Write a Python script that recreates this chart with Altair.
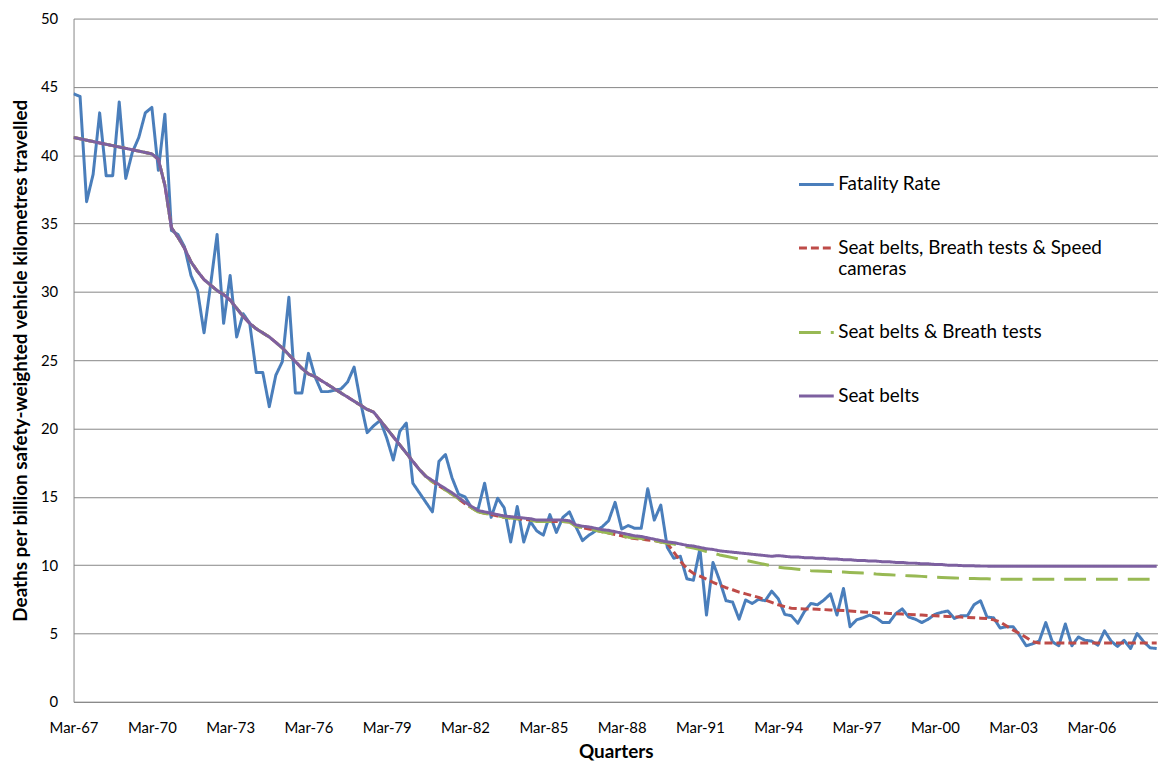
import altair as alt
import pandas as pd

# ---------------- data ----------------
fatality_rate = [
    44.5, 44.3, 36.6, 38.6, 43.1, 38.5, 38.5, 43.9, 38.3, 40.2,
    41.3, 43.1, 43.5, 38.9, 43.0, 34.5, 34.2, 33.3, 31.2, 30.1,
    27.0, 30.5, 34.2, 27.7, 31.2, 26.7, 28.4, 27.7, 24.1, 24.1,
    21.6, 23.9, 24.9, 29.6, 22.6, 22.6, 25.5, 23.8, 22.7, 22.7,
    22.8, 22.9, 23.4, 24.5, 21.9, 19.7, 20.2, 20.6, 19.3, 17.7,
    19.8, 20.4, 16.0, 15.3, 14.6, 13.9, 17.6, 18.1, 16.4, 15.2,
    15.0, 14.2, 14.1, 16.0, 13.5, 14.9, 14.2, 11.7, 14.3, 11.7,
    13.2, 12.5, 12.2, 13.7, 12.4, 13.5, 13.9, 12.8, 11.8, 12.2,
    12.5, 12.8, 13.25, 14.6, 12.65, 12.9, 12.7, 12.7, 15.6, 13.3,
    14.4, 11.3, 10.5, 10.65, 9.0, 8.9, 11.2, 6.35, 10.2, 8.9,
    7.4, 7.3, 6.05, 7.45, 7.2, 7.5, 7.4, 8.1, 7.55, 6.4,
    6.3, 5.75, 6.6, 7.2, 7.1, 7.45, 7.9, 6.35, 8.3, 5.5,
    6.0, 6.15, 6.35, 6.15, 5.8, 5.8, 6.45, 6.8, 6.2, 6.05,
    5.8, 6.05, 6.4, 6.55, 6.65, 6.1, 6.3, 6.3, 7.1, 7.4,
    6.2, 6.15, 5.4, 5.5, 5.5, 4.85, 4.1, 4.25, 4.45, 5.8,
    4.4, 4.1, 5.7, 4.1, 4.75, 4.5, 4.45, 4.15, 5.2, 4.45,
    4.05, 4.5, 3.9, 5.0, 4.4, 3.95, 3.9,
]

seat_belts_breath_speed = [
    41.3, 41.2, 41.1, 41.0, 40.9, 40.8, 40.7, 40.6, 40.5, 40.4,
    40.3, 40.2, 40.1, 39.7, 37.8, 34.7, 34.0, 33.2, 32.2, 31.5,
    30.9, 30.5, 30.1, 29.8, 29.4, 28.8, 28.2, 27.7, 27.3, 27.0,
    26.7, 26.3, 25.9, 25.4, 24.9, 24.4, 24.0, 23.8, 23.5, 23.2,
    22.9, 22.6, 22.3, 22.0, 21.7, 21.4, 21.2, 20.6, 20.0, 19.4,
    18.8, 18.2, 17.6, 17.0, 16.5, 16.1, 15.8, 15.5, 15.2, 14.85,
    14.5, 14.2, 13.9, 13.8, 13.7, 13.6, 13.5, 13.45, 13.4, 13.35,
    13.3, 13.2, 13.2, 13.2, 13.2, 13.2, 13.15, 12.85, 12.75, 12.65,
    12.55, 12.45, 12.35, 12.25, 12.15, 12.0, 11.95, 11.9, 11.85, 11.8,
    11.7, 11.6, 10.95, 10.3, 9.75, 9.4, 9.2, 8.98, 8.75, 8.55,
    8.35, 8.2, 8.03, 7.9, 7.77, 7.64, 7.45, 7.27, 7.1, 6.97,
    6.85, 6.82, 6.8, 6.79, 6.77, 6.75, 6.72, 6.7, 6.68, 6.65,
    6.6, 6.58, 6.55, 6.52, 6.5, 6.47, 6.45, 6.42, 6.4, 6.37,
    6.35, 6.32, 6.3, 6.27, 6.25, 6.22, 6.2, 6.17, 6.15, 6.12,
    6.1, 6.0, 5.85, 5.55, 5.25, 5.0, 4.7, 4.4, 4.3, 4.3,
    4.3, 4.3, 4.3, 4.3, 4.3, 4.3, 4.3, 4.3, 4.3, 4.3,
    4.3, 4.3, 4.3, 4.3, 4.3, 4.3, 4.3,
]

seat_belts_breath = [
    41.3, 41.2, 41.1, 41.0, 40.9, 40.8, 40.7, 40.6, 40.5, 40.4,
    40.3, 40.2, 40.1, 39.7, 37.8, 34.7, 34.0, 33.2, 32.2, 31.5,
    30.9, 30.5, 30.1, 29.8, 29.4, 28.8, 28.2, 27.7, 27.3, 27.0,
    26.7, 26.3, 25.9, 25.4, 24.9, 24.4, 24.0, 23.8, 23.5, 23.2,
    22.9, 22.6, 22.3, 22.0, 21.7, 21.4, 21.2, 20.6, 20.0, 19.4,
    18.8, 18.2, 17.6, 17.0, 16.5, 16.1, 15.8, 15.5, 15.2, 14.85,
    14.5, 14.2, 13.9, 13.8, 13.7, 13.6, 13.5, 13.45, 13.4, 13.35,
    13.3, 13.2, 13.2, 13.2, 13.2, 13.2, 13.15, 12.85, 12.75, 12.65,
    12.55, 12.45, 12.35, 12.25, 12.15, 12.05, 12.0, 11.95, 11.85, 11.8,
    11.7, 11.6, 11.55, 11.45, 11.35, 11.25, 11.15, 11.0, 10.9, 10.75,
    10.65, 10.55, 10.45, 10.35, 10.25, 10.15, 10.05, 9.95, 9.85, 9.8,
    9.75, 9.7, 9.65, 9.6, 9.58, 9.55, 9.53, 9.5, 9.5, 9.47,
    9.45, 9.42, 9.4, 9.35, 9.32, 9.3, 9.27, 9.25, 9.22, 9.2,
    9.18, 9.15, 9.12, 9.1, 9.08, 9.06, 9.05, 9.03, 9.02, 9.01,
    9.0, 8.97, 8.97, 8.97, 8.97, 8.97, 8.97, 8.97, 8.97, 8.97,
    8.97, 8.97, 8.97, 8.97, 8.97, 8.97, 8.97, 8.97, 8.97, 8.97,
    8.97, 8.97, 8.97, 8.97, 8.97, 8.97, 8.97,
]

seat_belts = [
    41.3, 41.2, 41.1, 41.0, 40.9, 40.8, 40.7, 40.6, 40.5, 40.4,
    40.3, 40.2, 40.1, 39.7, 37.8, 34.7, 34.0, 33.2, 32.2, 31.5,
    30.9, 30.5, 30.1, 29.8, 29.4, 28.8, 28.2, 27.7, 27.3, 27.0,
    26.7, 26.3, 25.9, 25.4, 24.9, 24.4, 24.0, 23.8, 23.5, 23.2,
    22.9, 22.6, 22.3, 22.0, 21.7, 21.4, 21.2, 20.6, 20.0, 19.4,
    18.8, 18.2, 17.6, 17.0, 16.5, 16.2, 15.9, 15.6, 15.3, 14.95,
    14.6, 14.3, 14.0, 13.9, 13.8, 13.7, 13.6, 13.55, 13.5, 13.45,
    13.4, 13.3, 13.3, 13.3, 13.3, 13.3, 13.25, 12.95, 12.85, 12.8,
    12.7, 12.6, 12.55, 12.45, 12.35, 12.25, 12.15, 12.1, 12.0, 11.9,
    11.8, 11.7, 11.65, 11.55, 11.45, 11.4, 11.3, 11.2, 11.15, 11.05,
    11.0, 10.95, 10.9, 10.85, 10.8, 10.75, 10.7, 10.65, 10.7, 10.65,
    10.6, 10.6, 10.55, 10.55, 10.5, 10.5, 10.45, 10.45, 10.4, 10.4,
    10.35, 10.35, 10.3, 10.3, 10.25, 10.25, 10.2, 10.2, 10.15, 10.15,
    10.1, 10.1, 10.05, 10.05, 10.0, 10.0, 9.97, 9.95, 9.95, 9.93,
    9.93, 9.92, 9.92, 9.92, 9.92, 9.92, 9.92, 9.92, 9.92, 9.92,
    9.92, 9.92, 9.92, 9.92, 9.92, 9.92, 9.92, 9.92, 9.92, 9.92,
    9.92, 9.92, 9.92, 9.92, 9.92, 9.92, 9.92,
]

series_names = [
    "Fatality Rate",
    "Seat belts, Breath tests & Speed cameras",
    "Seat belts & Breath tests",
    "Seat belts",
]
series_values = [fatality_rate, seat_belts_breath_speed, seat_belts_breath, seat_belts]
series_colors = ["#4A7EBB", "#BE4B48", "#98B954", "#7D60A0"]
series_dashes = [[1, 0], [8, 4], [22, 10], [1, 0]]

tick_quarters = [0, 12, 24, 36, 48, 60, 72, 84, 96, 108, 120, 132, 144, 156]
tick_labels = ["Mar-67", "Mar-70", "Mar-73", "Mar-76", "Mar-79", "Mar-82", "Mar-85",
               "Mar-88", "Mar-91", "Mar-94", "Mar-97", "Mar-00", "Mar-03", "Mar-06"]
y_ticks = [0, 5, 10, 15, 20, 25, 30, 35, 40, 45, 50]

# ---------------- table ----------------
rows = []
for name, values in zip(series_names, series_values):
    for q, v in enumerate(values):
        rows.append({"series": name, "quarter": q, "value": v})
df = pd.DataFrame(rows)

label_expr = ("[" + ",".join("'%s'" % t for t in tick_labels) + "][indexof(["
              + ",".join(str(q) for q in tick_quarters) + "], datum.value)]")
legend_label_expr = ("datum.label == 'Seat belts, Breath tests & Speed cameras' ? "
                     "['Seat belts, Breath tests & Speed', 'cameras'] : datum.label")

FONT = "Lato"
GRID = "#868686"

legend = alt.Legend(
    title=None, orient="none", legendX=729, legendY=148, direction="vertical",
    symbolType="stroke", symbolSize=1225, symbolStrokeWidth=3,
    labelFont=FONT, labelFontSize=19, labelColor="black", labelOffset=3,
    labelLimit=500, rowPadding=35, padding=0, labelExpr=legend_label_expr,
)

x_enc = alt.X(
    "quarter:Q",
    scale=alt.Scale(domain=[0, 166.2], nice=False, zero=False),
    axis=alt.Axis(
        values=tick_quarters, labelExpr=label_expr, title="Quarters",
        grid=False, ticks=False, domainColor=GRID, domainWidth=1,
        labelFont=FONT, labelFontSize=15, labelColor="black", labelPadding=19,
        labelFlush=False, labelOverlap=False,
        titleFont=FONT, titleFontSize=19, titleFontWeight="bold", titleColor="black",
        titlePadding=7,
    ),
)
y_enc = alt.Y(
    "value:Q",
    scale=alt.Scale(domain=[0, 50], nice=False),
    axis=alt.Axis(
        values=y_ticks, title="Deaths per billion safety-weighted vehicle kilometres travelled",
        grid=True, gridColor=GRID, gridWidth=1, ticks=False,
        domainColor=GRID, domainWidth=1,
        labelFont=FONT, labelFontSize=15, labelColor="black", labelPadding=16,
        titleFont=FONT, titleFontSize=19, titleFontWeight="bold", titleColor="black",
        titlePadding=10,
    ),
)
color_enc = alt.Color("series:N", scale=alt.Scale(domain=series_names, range=series_colors), legend=legend)
dash_enc = alt.StrokeDash("series:N", scale=alt.Scale(domain=series_names, range=series_dashes), legend=legend)

layers = []
for name in series_names:
    layers.append(
        alt.Chart(df)
        .transform_filter(alt.datum.series == name)
        .mark_line(strokeWidth=3, clip=True, strokeJoin="round")
        .encode(x=x_enc, y=y_enc, color=color_enc, strokeDash=dash_enc)
    )

chart = (
    alt.layer(*layers)
    .properties(
        width=1092, height=688,
        autosize=alt.AutoSizeParams(type="none"),
        padding={"left": 66, "top": 8, "right": 0, "bottom": 66},
        background="white",
    )
    .configure_view(strokeWidth=0)
)

chart.save("out.html", embed_options={"renderer": "svg", "actions": False})
